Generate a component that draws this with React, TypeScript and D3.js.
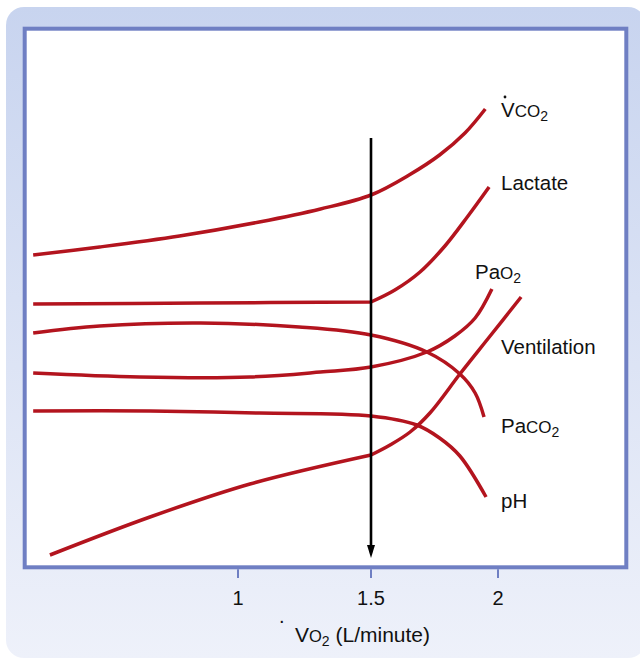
import React from "react";
import { scaleLinear, line, curveCatmullRom } from "d3";

// VO2 (L/minute) on x, relative level (no units) on y
const vco2X = [0.23, 0.48, 0.78, 1.08, 1.31, 1.5, 1.65, 1.77, 1.87, 1.95];
const vco2Y = [312, 320, 331, 345, 358, 372, 392, 412, 434, 458];

const lactateX = [0.23, 0.86, 1.5, 1.594, 1.693, 1.791, 1.882, 1.965];
const lactateY = [263, 264, 265, 277, 295, 321, 351, 380];

const paco2X = [0.23, 0.48, 0.86, 1.23, 1.5, 1.72, 1.85, 1.91, 1.945];
const paco2Y = [234, 241, 244, 240, 232, 215, 193, 174, 150];

const pao2X = [0.23, 0.63, 1.045, 1.31, 1.5, 1.72, 1.83, 1.91, 1.976];
const pao2Y = [194, 190, 190, 195, 200, 215, 231, 249, 278];

const phX = [0.23, 0.67, 1.08, 1.5, 1.68, 1.77, 1.85, 1.953];
const phY = [156, 156, 154, 151, 142, 129, 111, 70];

const ventX = [0.293, 0.669, 1.045, 1.5, 1.575, 1.654, 1.732, 1.85, 1.969, 2.091];
const ventY = [12, 50, 83, 112, 122, 135, 154, 193, 231, 270];

const xTicks = [1, 1.5, 2];
const threshold = 1.5;

// kinked = breaks sharply at the threshold
const series = [
  { name: "VCO2", xs: vco2X, ys: vco2Y, kinked: false },
  { name: "Lactate", xs: lactateX, ys: lactateY, kinked: true },
  { name: "PaCO2", xs: paco2X, ys: paco2Y, kinked: false },
  { name: "PaO2", xs: pao2X, ys: pao2Y, kinked: false },
  { name: "pH", xs: phX, ys: phY, kinked: false },
  { name: "Ventilation", xs: ventX, ys: ventY, kinked: true },
];

const RED = "#b3141e";
const BLUE = "#6f7fc3";
const FONT = "'Liberation Sans', Arial, Helvetica, sans-serif";

export default function App() {
  const width = 640;
  const height = 659;
  const box = { left: 24.7, top: 28.7, right: 626.3, bottom: 567.3 };

  // axis ticks in the source are not evenly spaced, so piecewise
  const xScale = scaleLinear().domain([1, 1.5, 2]).range([238, 371, 498]);
  const yScale = scaleLinear().domain([0, 540]).range([567, 27]);

  const path = (xs: number[], ys: number[], kinked: boolean) => {
    const gen = line<number>()
      .x((d) => xScale(xs[d]))
      .y((d) => yScale(ys[d]))
      .curve(curveCatmullRom.alpha(0.5));
    const idx = xs.map((_, i) => i);
    if (!kinked) return gen(idx) || "";
    // draw both sides of the threshold separately so the corner stays sharp
    const k = xs.indexOf(threshold);
    return (gen(idx.slice(0, k + 1)) || "") + (gen(idx.slice(k)) || "");
  };

  const ax = xScale(threshold);

  return (
    <svg
      width={width}
      height={height}
      style={{ position: "absolute", left: 0, top: 0, fontFamily: FONT }}
    >
      <defs>
        <linearGradient id="bg" x1="0" y1="0" x2="0" y2="1">
          <stop offset="0" stopColor="#c8d4ef" />
          <stop offset="1" stopColor="#eef1fa" />
        </linearGradient>
      </defs>
      <rect x={6} y={7} width={640} height={651} rx={18} fill="url(#bg)" />
      <rect
        x={box.left}
        y={box.top}
        width={box.right - box.left}
        height={box.bottom - box.top}
        fill="#fff"
        stroke={BLUE}
        strokeWidth={4}
      />

      {/* x ticks */}
      {xTicks.map((t) => (
        <g key={t} transform={`translate(${xScale(t)},0)`}>
          <line y1={box.bottom + 2} y2={578} stroke={BLUE} strokeWidth={2} />
          <text y={605} textAnchor="middle" fontSize={20} fill="#111">
            {t}
          </text>
        </g>
      ))}
      <text x={279} y={623} fontSize={20} fill="#111">.</text>
      <text x={295} y={642} fontSize={21} fill="#111">
        V<tspan fontSize={16.5}>O</tspan>
        <tspan fontSize={14} dy={4}>2</tspan>
        <tspan dy={-4}> (L/minute)</tspan>
      </text>

      {/* curves */}
      <g fill="none" stroke={RED} strokeWidth={3.5} strokeLinejoin="round">
        {series.map((s) => (
          <path key={s.name} d={path(s.xs, s.ys, s.kinked)} />
        ))}
      </g>

      {/* threshold arrow */}
      <line x1={ax} x2={ax} y1={138} y2={548} stroke="#000" strokeWidth={2.6} />
      <path d={`M${ax - 4},${545} L${ax + 4},${545} L${ax},${558} Z`} fill="#000" />

      {/* labels */}
      <g fontSize={20.5} fill="#111">
        <circle cx={505} cy={97} r={1.4} fill="#111" />
        <text x={501} y={117}>
          V<tspan fontSize={17}>CO</tspan>
          <tspan fontSize={14} dy={4}>2</tspan>
        </text>
        <text x={501} y={190}>Lactate</text>
        <text x={475} y={279}>
          Pa<tspan fontSize={17}>O</tspan>
          <tspan fontSize={14} dy={4}>2</tspan>
        </text>
        <text x={501} y={354}>Ventilation</text>
        <text x={501} y={433}>
          Pa<tspan fontSize={17}>CO</tspan>
          <tspan fontSize={14} dy={4}>2</tspan>
        </text>
        <text x={501} y={508}>pH</text>
      </g>
    </svg>
  );
}
